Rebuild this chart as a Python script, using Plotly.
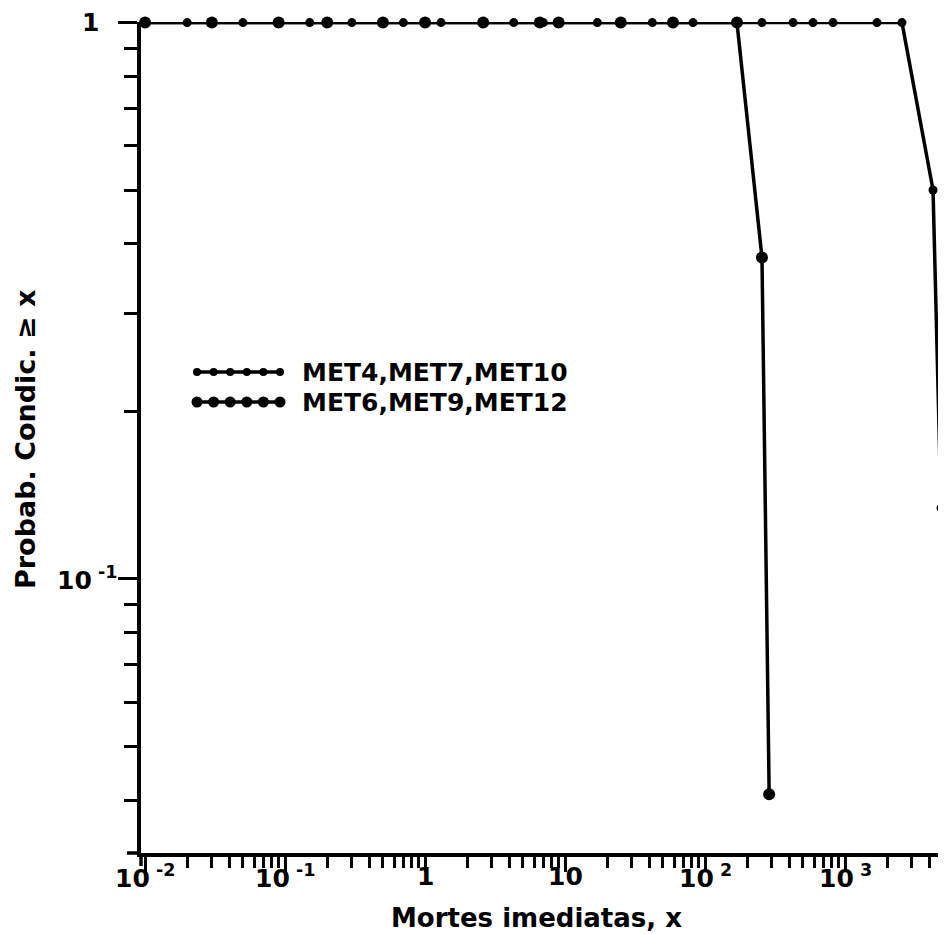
import math
import plotly.graph_objects as go

# ---- data ----
series_names = ["MET4,MET7,MET10", "MET6,MET9,MET12"]

x_met4 = [0.01, 0.02, 0.05, 0.15, 0.3, 0.7, 1.3, 4.3, 7, 17, 42, 82, 255, 425, 590, 820, 1690, 2550, 4250, 4850]
y_met4 = [1, 1, 1, 1, 1, 1, 1, 1, 1, 1, 1, 1, 1, 1, 1, 1, 1, 1, 0.5, 0.134]

x_met6 = [0.01, 0.03, 0.09, 0.2, 0.5, 1, 2.6, 6.6, 9, 25, 59, 169, 255, 287]
y_met6 = [1, 1, 1, 1, 1, 1, 1, 1, 1, 1, 1, 1, 0.378, 0.041]

x_tickvals = [0.01, 0.1, 1, 10, 100, 1000]
x_ticktext = ["10<sup> -2</sup>", "10<sup> -1</sup>", "1", "10", "10<sup> 2</sup>", "10<sup> 3</sup>"]
y_tickvals = [0.1, 1]
y_ticktext = ["10<sup> -1</sup>", "1"]

x_title = "Mortes imediatas, x"
y_title = "Probab. Condic. ≥ x"

# ---- layout geometry (page pixels; page body has an 8px margin) ----
OFF = 8
W, H = 946 - OFF, 934 - OFF
PL, PR, PT, PB = 141, 946, 22, 853          # plot area in page pixels
PW, PH = PR - PL, PB - PT
Y_RANGE = [-1.493, 0.001]


def px_x(p):
    return (p - PL) / PW


def px_y(p):
    return (PB - p) / PH


FONT = "DejaVu Sans"
BLACK = "black"
LW = 3.5

fig = go.Figure()
fig.add_trace(go.Scatter(
    x=x_met4, y=y_met4, mode="lines+markers", name=series_names[0],
    line=dict(color=BLACK, width=LW), marker=dict(color=BLACK, size=9),
    cliponaxis=False, showlegend=False))
fig.add_trace(go.Scatter(
    x=x_met6, y=y_met6, mode="lines+markers", name=series_names[1],
    line=dict(color=BLACK, width=LW), marker=dict(color=BLACK, size=12),
    cliponaxis=False, showlegend=False))

minor_x = [k * 10.0 ** e for e in range(-2, 4) for k in range(2, 10)]
minor_y = [k * 10.0 ** e for e in range(-2, 0) for k in range(2, 10)]

fig.update_xaxes(
    type="log", range=[-2.029, 3.721],
    showline=True, linewidth=LW, linecolor=BLACK, mirror=False,
    showgrid=False, zeroline=False,
    ticks="outside", ticklen=15, tickwidth=3, tickcolor=BLACK,
    tickvals=x_tickvals, showticklabels=False,
    minor=dict(tickvals=minor_x, ticks="outside", ticklen=11, tickwidth=3, tickcolor=BLACK, showgrid=False),
)
fig.update_yaxes(
    type="log", range=Y_RANGE,
    showline=True, linewidth=LW, linecolor=BLACK, mirror=False,
    showgrid=False, zeroline=False,
    ticks="outside", ticklen=19, tickwidth=3, tickcolor=BLACK,
    tickvals=y_tickvals, showticklabels=False,
    minor=dict(tickvals=minor_y, ticks="outside", ticklen=13, tickwidth=3, tickcolor=BLACK, showgrid=False),
)

tick_font = dict(family=FONT, size=25, color=BLACK, weight="bold")

annotations = [
    dict(text=x_title, xref="paper", yref="paper", x=px_x(536), y=px_y(918),
         showarrow=False, xanchor="center", yanchor="middle",
         font=dict(family=FONT, size=26, color=BLACK, weight="bold")),
    dict(text=y_title, xref="paper", yref="paper", x=px_x(25), y=px_y(440),
         showarrow=False, xanchor="center", yanchor="middle", textangle=-90,
         font=dict(family=FONT, size=27, color=BLACK, weight="bold")),
]

# x tick labels placed close to the axis
for v, t in zip(x_tickvals, x_ticktext):
    annotations.append(dict(text=t, xref="x", yref="paper", x=math.log10(v), y=px_y(876),
                            showarrow=False, xanchor="center", yanchor="middle", font=tick_font))

# y tick labels ("1" sits further left than "10^-1" in the original)
y_label_right = {0.1: px_x(119), 1: px_x(101)}
for v, t in zip(y_tickvals, y_ticktext):
    annotations.append(dict(text=t, xref="paper", yref="y", x=y_label_right[v], y=math.log10(v),
                            showarrow=False, xanchor="right", yanchor="middle", font=tick_font))

shapes = [
    # small axis overhangs where the axes cross
    dict(type="line", xref="paper", yref="paper", x0=px_x(141), x1=px_x(141),
         y0=px_y(853), y1=px_y(866), line=dict(color=BLACK, width=LW)),
    dict(type="line", xref="paper", yref="paper", x0=px_x(127), x1=px_x(141),
         y0=px_y(853), y1=px_y(853), line=dict(color=BLACK, width=LW)),
]

# legend drawn as shapes + text
leg_rows = [(372, 8), (402, 11)]
for (ry, msize), name in zip(leg_rows, series_names):
    shapes.append(dict(type="line", xref="paper", yref="paper",
                       x0=px_x(196), x1=px_x(280), y0=px_y(ry), y1=px_y(ry),
                       line=dict(color=BLACK, width=LW)))
    for k in range(6):
        cx = 197 + k * 16.6
        shapes.append(dict(type="circle", xref="paper", yref="paper",
                           xsizemode="pixel", ysizemode="pixel",
                           xanchor=px_x(cx), yanchor=px_y(ry),
                           x0=-msize / 2, x1=msize / 2, y0=-msize / 2, y1=msize / 2,
                           fillcolor=BLACK, line=dict(color=BLACK, width=0)))
    annotations.append(dict(text=name, xref="paper", yref="paper",
                            x=px_x(300), y=px_y(ry), showarrow=False,
                            xanchor="left", yanchor="middle",
                            font=dict(family=FONT, size=25, color=BLACK, weight="bold")))

fig.update_layout(
    width=W, height=H,
    margin=dict(l=PL - OFF, r=0, t=PT - OFF, b=H - (PB - OFF), autoexpand=False),
    paper_bgcolor="white", plot_bgcolor="white",
    showlegend=False,
    annotations=annotations, shapes=shapes,
)

fig.write_html("out.html")
